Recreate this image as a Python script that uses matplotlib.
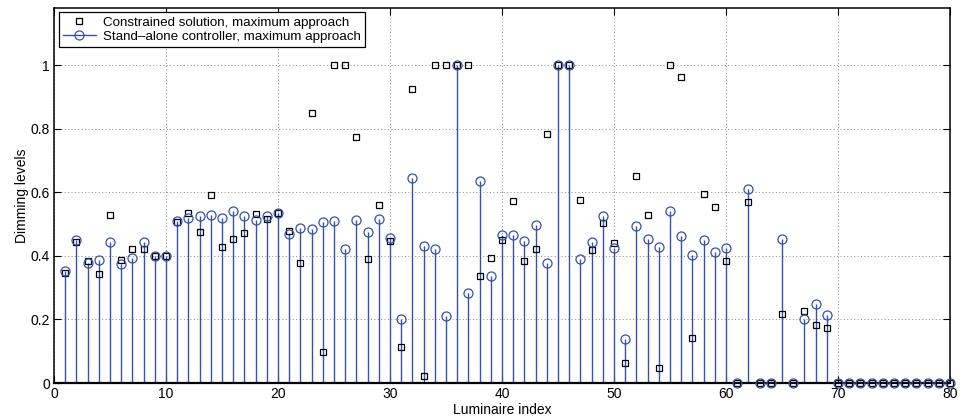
import numpy as np
import matplotlib
matplotlib.use('Agg')
import matplotlib.pyplot as plt
from matplotlib.lines import Line2D

plt.rcParams['font.family'] = ['Liberation Sans', 'DejaVu Sans']

# Luminaire indices 1..80
luminaire = np.arange(1, 81)

# Stand-alone controller, maximum approach (stem series)
standalone = [
    0.352, 0.451, 0.377, 0.387, 0.442, 0.374, 0.394, 0.442, 0.401, 0.400,
    0.508, 0.519, 0.526, 0.528, 0.519, 0.541, 0.526, 0.513, 0.525, 0.535,
    0.469, 0.487, 0.484, 0.505, 0.508, 0.420, 0.513, 0.475, 0.515, 0.455,
    0.202, 0.646, 0.431, 0.421, 0.212, 1.000, 0.282, 0.636, 0.335, 0.467,
    0.466, 0.447, 0.497, 0.379, 1.000, 1.000, 0.391, 0.445, 0.525, 0.424,
    0.138, 0.495, 0.453, 0.427, 0.542, 0.463, 0.403, 0.451, 0.412, 0.425,
    0.000, 0.610, 0.000, 0.000, 0.454, 0.000, 0.200, 0.250, 0.215, 0.000,
    0.000, 0.000, 0.000, 0.000, 0.000, 0.000, 0.000, 0.000, 0.000, 0.000,
]

# Constrained solution, maximum approach (square markers)
constrained = [
    0.347, 0.444, 0.385, 0.343, 0.528, 0.388, 0.420, 0.422, 0.398, 0.398,
    0.505, 0.536, 0.475, 0.592, 0.427, 0.454, 0.473, 0.532, 0.517, 0.535,
    0.477, 0.379, 0.848, 0.097, 1.000, 1.000, 0.775, 0.390, 0.560, 0.446,
    0.113, 0.924, 0.022, 1.000, 1.000, 1.000, 1.000, 0.335, 0.393, 0.451,
    0.571, 0.384, 0.421, 0.782, 1.000, 1.000, 0.576, 0.419, 0.504, 0.440,
    0.062, 0.652, 0.529, 0.046, 1.000, 0.961, 0.141, 0.593, 0.555, 0.384,
    0.000, 0.569, 0.000, 0.000, 0.218, 0.000, 0.225, 0.183, 0.174, 0.000,
    0.000, 0.000, 0.000, 0.000, 0.000, 0.000, 0.000, 0.000, 0.000, 0.000,
]

blue = '#3652a8'
fs = 10

fig = plt.figure(figsize=(9.62, 4.18), dpi=100)
ax = fig.add_axes([0.0561, 0.0837, 0.9314, 0.8976])

sq, = ax.plot(luminaire, constrained, linestyle='none', marker='s',
              markersize=5, markerfacecolor='none', markeredgecolor='black',
              markeredgewidth=0.9, clip_on=False, zorder=4,
              label='Constrained solution, maximum approach')

markerline, stemlines, baseline = ax.stem(luminaire, standalone, basefmt=' ')
plt.setp(stemlines, color=blue, linewidth=1.0)
plt.setp(markerline, marker='o', markersize=6.5, markerfacecolor='none',
         markeredgecolor=blue, markeredgewidth=0.9, clip_on=False, zorder=5)
markerline.set_label('Stand\u2013alone controller, maximum approach')

ax.set_xlim(0, 80)
ax.set_ylim(0, 1.18)
ax.set_xticks(np.arange(0, 81, 10))
ax.set_yticks([0, 0.2, 0.4, 0.6, 0.8, 1.0])
ax.set_yticklabels(['0', '0.2', '0.4', '0.6', '0.8', '1'])
ax.tick_params(direction='in', top=True, right=True, labelsize=fs,
               length=5, width=0.8, pad=3)
ax.grid(True, linestyle=(0, (1, 2.5)), color='#888888', linewidth=0.7)
for s in ax.spines.values():
    s.set_linewidth(1.1)
ax.spines['bottom'].set_linewidth(1.6)

ax.set_xlabel('Luminaire index', fontsize=fs, labelpad=1)
ax.set_ylabel('Dimming levels', fontsize=fs, labelpad=1)

handles = [
    Line2D([], [], linestyle='none', marker='s', markersize=5,
           markerfacecolor='none', markeredgecolor='black', markeredgewidth=0.9),
    Line2D([], [], color=blue, linewidth=1.0, marker='o', markersize=6.5,
           markerfacecolor='none', markeredgecolor=blue, markeredgewidth=0.9,
           markevery=[1]),
]
leg = ax.legend(handles, [sq.get_label(), markerline.get_label()],
                loc='upper left', fontsize=9.6, frameon=True, fancybox=False,
                edgecolor='black', framealpha=1, borderpad=0.3,
                labelspacing=0.15, handlelength=2.5, handletextpad=0.5,
                borderaxespad=0.35)
leg.get_frame().set_linewidth(0.9)

fig.savefig('out.png', dpi=100)
